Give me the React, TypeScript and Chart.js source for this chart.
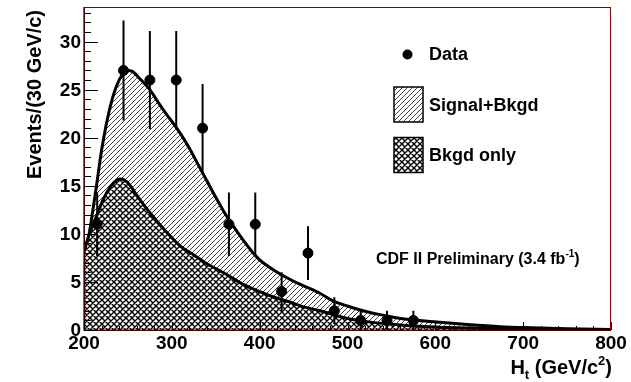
import React, { useEffect, useRef } from "react";
import { Chart, registerables } from "chart.js";

Chart.register(...registerables);

// Data points (bin centres, counts, Poisson errors)
const DATA_X = [215, 245, 275, 305, 335, 365, 395, 425, 455, 485, 515, 545, 575];
const DATA_Y = [11, 27, 26, 26, 21, 11, 11, 4, 8, 2, 1, 1, 1];
const DATA_ERR = [3.3, 5.2, 5.1, 5.1, 4.6, 3.3, 3.3, 2.0, 2.8, 1.4, 1.0, 1.0, 1.0];

// Signal+Bkgd curve
const SIG_X = [200, 205, 210, 215, 220, 230, 240, 250, 255, 265, 275, 285, 295, 300, 310, 320, 330, 340, 350, 360, 370, 380, 390, 400, 410, 420, 438, 450, 469, 484, 500, 522, 540, 560, 598, 640, 674, 700, 750, 800];
const SIG_Y = [8.3, 9.6, 12.4, 15.5, 18.7, 23.3, 26.0, 27.0, 26.9, 26.0, 25.0, 23.6, 22.3, 21.7, 20.4, 18.9, 17.2, 15.5, 13.8, 12.2, 10.8, 9.5, 8.3, 7.3, 6.6, 6.0, 5.1, 4.6, 3.8, 3.0, 2.5, 1.9, 1.55, 1.2, 0.86, 0.55, 0.35, 0.25, 0.12, 0.06];

// Bkgd-only curve
const BKG_X = [200, 205, 214, 222, 230, 236, 241, 246, 252, 258, 264, 275, 287, 300, 310, 325, 340, 362, 380, 400, 420, 438, 450, 469, 484, 500, 522, 560, 600, 650, 700, 750, 800];
const BKG_Y = [8.1, 9.7, 11.8, 13.6, 14.9, 15.5, 15.7, 15.6, 15.1, 14.3, 13.5, 12.2, 10.9, 9.6, 8.7, 7.8, 6.9, 5.8, 4.8, 4.0, 3.3, 2.8, 2.4, 2.0, 1.6, 1.2, 0.87, 0.52, 0.32, 0.17, 0.09, 0.05, 0.03];

const X_TICKS = [200, 300, 400, 500, 600, 700, 800];
const Y_TICKS = [0, 5, 10, 15, 20, 25, 30];
const X_MIN = 200;
const X_MAX = 800;
const Y_MIN = 0;
const Y_MAX = 33.6;

const FONT = "'Liberation Sans', Arial, Helvetica, sans-serif";

function makeHatch(): CanvasPattern | string {
  const c = document.createElement("canvas");
  c.width = 5;
  c.height = 5;
  const g = c.getContext("2d");
  if (!g) return "#ddd";
  g.fillStyle = "#fff";
  g.fillRect(0, 0, 5, 5);
  g.strokeStyle = "#444";
  g.lineWidth = 1;
  g.beginPath();
  g.moveTo(-1, 6);
  g.lineTo(6, -1);
  g.moveTo(-1, 1);
  g.lineTo(1, -1);
  g.moveTo(4, 6);
  g.lineTo(6, 4);
  g.stroke();
  return g.createPattern(c, "repeat") as CanvasPattern;
}

function makeCross(): CanvasPattern | string {
  const c = document.createElement("canvas");
  c.width = 6;
  c.height = 6;
  const g = c.getContext("2d");
  if (!g) return "#aaa";
  g.fillStyle = "#fff";
  g.fillRect(0, 0, 6, 6);
  g.strokeStyle = "#000";
  g.lineWidth = 1.4;
  g.beginPath();
  g.moveTo(-1, 7);
  g.lineTo(7, -1);
  g.moveTo(-1, 1);
  g.lineTo(1, -1);
  g.moveTo(5, 7);
  g.lineTo(7, 5);
  g.moveTo(-1, -1);
  g.lineTo(7, 7);
  g.moveTo(5, -1);
  g.lineTo(7, 1);
  g.moveTo(-1, 5);
  g.lineTo(1, 7);
  g.stroke();
  return g.createPattern(c, "repeat") as CanvasPattern;
}

export default function App() {
  const ref = useRef<HTMLCanvasElement | null>(null);

  useEffect(() => {
    const canvas = ref.current;
    if (!canvas) return;
    const hatch = makeHatch();
    const cross = makeCross();

    const errorBars = {
      id: "errorBars",
      afterDatasetsDraw(chart: any) {
        const ctx = chart.ctx;
        const xs = chart.scales.x;
        const ys = chart.scales.y;
        ctx.save();
        ctx.strokeStyle = "#000";
        ctx.lineWidth = 2;
        DATA_X.forEach((x, i) => {
          const px = xs.getPixelForValue(x);
          const y1 = ys.getPixelForValue(Math.max(0, DATA_Y[i] - DATA_ERR[i]));
          const y2 = ys.getPixelForValue(DATA_Y[i] + DATA_ERR[i]);
          ctx.beginPath();
          ctx.moveTo(px, y1);
          ctx.lineTo(px, y2);
          ctx.stroke();
        });
        ctx.restore();
      },
    };

    const frame = {
      id: "frame",
      afterDraw(chart: any) {
        const ctx = chart.ctx;
        const a = chart.chartArea;
        const xs = chart.scales.x;
        const ys = chart.scales.y;
        ctx.save();
        // frame
        ctx.strokeStyle = "#8b0000";
        ctx.lineWidth = 1;
        ctx.strokeRect(a.left + 0.5, a.top + 0.5, a.right - a.left - 1, a.bottom - a.top);
        ctx.strokeStyle = "#1a0000";
        ctx.lineWidth = 1.2;
        ctx.beginPath();
        ctx.moveTo(a.left, a.top);
        ctx.lineTo(a.left, a.bottom);
        ctx.lineTo(a.right, a.bottom);
        ctx.stroke();

        // y ticks (inward)
        ctx.strokeStyle = "#000";
        ctx.lineWidth = 1;
        ctx.beginPath();
        for (let v = Y_MIN; v <= Y_MAX + 1e-6; v += 1) {
          const py = Math.round(ys.getPixelForValue(v)) + 0.5;
          const len = v % 5 === 0 ? 14 : 7;
          ctx.moveTo(a.left, py);
          ctx.lineTo(a.left + len, py);
        }
        // x ticks (inward)
        for (let v = X_MIN; v <= X_MAX + 1e-6; v += 20) {
          const px = Math.round(xs.getPixelForValue(v)) + 0.5;
          const len = v % 100 === 0 ? 8 : 4;
          ctx.moveTo(px, a.bottom);
          ctx.lineTo(px, a.bottom - len);
        }
        ctx.stroke();

        // tick labels
        ctx.fillStyle = "#000";
        ctx.font = `bold 19px ${FONT}`;
        ctx.textAlign = "right";
        ctx.textBaseline = "middle";
        Y_TICKS.forEach((v) => {
          ctx.fillText(String(v), a.left - 3, ys.getPixelForValue(v) + 1);
        });
        ctx.textAlign = "center";
        X_TICKS.forEach((v) => {
          ctx.fillText(String(v), xs.getPixelForValue(v), a.bottom + 14);
        });

        // y title
        ctx.save();
        ctx.translate(35.5, 10);
        ctx.rotate(-Math.PI / 2);
        ctx.font = `bold 20px ${FONT}`;
        ctx.textAlign = "right";
        ctx.textBaseline = "middle";
        ctx.fillText("Events/(30 GeV/c)", 0, 0);
        ctx.restore();

        // x title: H_t (GeV/c^2)
        ctx.textAlign = "left";
        ctx.textBaseline = "alphabetic";
        const big = `bold 20px ${FONT}`;
        const small = `bold 13px ${FONT}`;
        const parts: [string, string, number][] = [
          ["H", big, 0],
          ["t", small, 5],
          [" (GeV/c", big, 0],
          ["2", small, -9],
          [")", big, 0],
        ];
        let total = 0;
        parts.forEach(([t, f]) => {
          ctx.font = f;
          total += ctx.measureText(t).width;
        });
        let cx = a.right + 1 - total;
        const base = 374;
        parts.forEach(([t, f, dy]) => {
          ctx.font = f;
          ctx.fillText(t, cx, base + dy);
          cx += ctx.measureText(t).width;
        });

        // CDF label
        const cdf: [string, string, number][] = [
          ["CDF II Preliminary (3.4 fb", `bold 16px ${FONT}`, 0],
          ["-1", `bold 10px ${FONT}`, -7],
          [")", `bold 16px ${FONT}`, 0],
        ];
        cx = 376;
        cdf.forEach(([t, f, dy]) => {
          ctx.font = f;
          ctx.fillText(t, cx, 264 + dy);
          cx += ctx.measureText(t).width;
        });

        // legend
        ctx.beginPath();
        ctx.arc(407.5, 54.5, 5, 0, Math.PI * 2);
        ctx.fill();
        ctx.font = `bold 18px ${FONT}`;
        ctx.textBaseline = "middle";
        ctx.fillText("Data", 429, 55);
        ctx.fillText("Signal+Bkgd", 429, 106);
        ctx.fillText("Bkgd only", 429, 156);

        ctx.lineWidth = 1.5;
        ctx.strokeStyle = "#000";
        ctx.fillStyle = hatch as any;
        ctx.fillRect(394, 87, 29, 35);
        ctx.strokeRect(394, 87, 29, 35);
        ctx.fillStyle = cross as any;
        ctx.fillRect(394, 137.5, 29, 35);
        ctx.strokeRect(394, 137.5, 29, 35);
        ctx.restore();
      },
    };

    const chart = new Chart(canvas, {
      type: "line",
      data: {
        datasets: [
          {
            type: "scatter",
            label: "Data",
            data: DATA_X.map((x, i) => ({ x, y: DATA_Y[i] })),
            pointRadius: 5,
            pointBackgroundColor: "#000",
            pointBorderColor: "#000",
            backgroundColor: "#000",
            borderColor: "#000",
            showLine: false,
            order: 0,
          } as any,
          {
            label: "Bkgd only",
            data: BKG_X.map((x, i) => ({ x, y: BKG_Y[i] })),
            borderColor: "#000",
            borderWidth: 3,
            pointRadius: 0,
            fill: "origin",
            backgroundColor: cross as any,
            cubicInterpolationMode: "monotone",
            order: 1,
          },
          {
            label: "Signal+Bkgd",
            data: SIG_X.map((x, i) => ({ x, y: SIG_Y[i] })),
            borderColor: "#000",
            borderWidth: 3,
            pointRadius: 0,
            fill: "origin",
            backgroundColor: hatch as any,
            cubicInterpolationMode: "monotone",
            order: 2,
          },
        ],
      },
      options: {
        animation: false,
        responsive: false,
        maintainAspectRatio: false,
        devicePixelRatio: 1,
        events: [],
        layout: { padding: { left: 84, right: 20, top: 7, bottom: 52 } },
        scales: {
          x: { type: "linear", min: X_MIN, max: X_MAX, display: false },
          y: { type: "linear", min: Y_MIN, max: Y_MAX, display: false },
        },
        plugins: {
          legend: { display: false },
          tooltip: { enabled: false },
          title: { display: false },
        },
      },
      plugins: [errorBars, frame],
    });
    return () => chart.destroy();
  }, []);

  return (
    <div style={{ position: "fixed", left: 0, top: 0, width: 631, height: 382, background: "#fff" }}>
      <canvas ref={ref} width={631} height={382} style={{ display: "block", width: 631, height: 382 }} />
    </div>
  );
}
